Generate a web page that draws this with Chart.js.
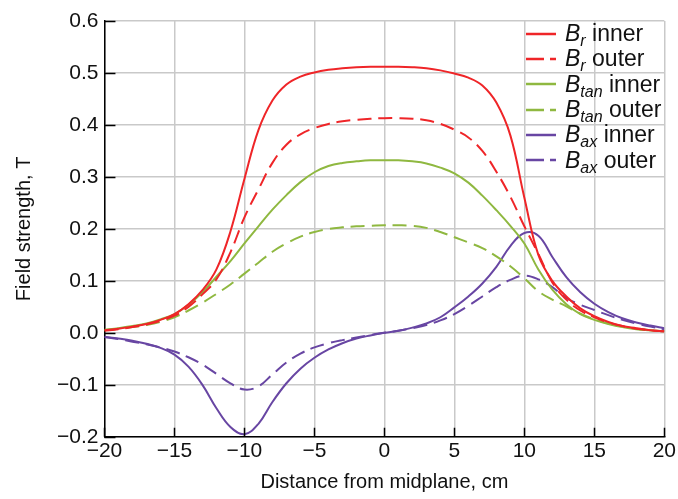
<!DOCTYPE html>
<html>
<head>
<meta charset="utf-8">
<script src="https://cdn.jsdelivr.net/npm/chart.js@4.4.1/dist/chart.umd.min.js"></script>
<style>
  body { margin: 0; background: #fff; }
  #wrap { position: relative; width: 678px; height: 499px; }
  #legend { position: absolute; left: 526px; top: 21px; font-family: "Liberation Sans", Arial, sans-serif; font-size: 23px; color: #111; }
  #legend .row { height: 25.3px; display: flex; align-items: center; white-space: nowrap; }
  #legend svg { margin-right: 9px; }
  #legend sub { font-size: 16px; font-style: italic; vertical-align: -5px; line-height: 0; }
</style>
</head>
<body>
<div id="wrap">
  <canvas id="chart" width="678" height="499"></canvas>
  <div id="legend"></div>
</div>
<script>
// distance from midplane, cm
const distance = [-20,-19,-18,-17,-16,-15,-14,-13,-12,-11,-10,-9,-8,-7,-6,-5,-4,-3,-2,-1,0,1,2,3,4,5,6,7,8,9,10,11,12,13,14,15,16,17,18,19,20];

// field strength, T
const brInner = [0.005,0.008,0.012,0.017,0.025,0.036,0.055,0.082,0.122,0.195,0.296,0.39,0.447,0.478,0.493,0.501,0.506,0.509,0.511,0.512,0.512,0.512,0.511,0.509,0.505,0.499,0.491,0.476,0.443,0.38,0.26,0.15,0.1,0.07,0.047,0.032,0.021,0.013,0.009,0.005,0.003];
const brOuter = [0.004,0.007,0.011,0.016,0.023,0.033,0.05,0.074,0.103,0.155,0.222,0.276,0.327,0.362,0.382,0.394,0.402,0.407,0.41,0.412,0.413,0.413,0.412,0.409,0.402,0.391,0.376,0.35,0.31,0.262,0.205,0.152,0.097,0.064,0.043,0.03,0.02,0.013,0.008,0.005,0.003];
const btanInner = [0.006,0.009,0.013,0.018,0.026,0.036,0.054,0.078,0.108,0.138,0.172,0.205,0.237,0.265,0.29,0.309,0.321,0.327,0.33,0.332,0.332,0.332,0.33,0.326,0.318,0.307,0.289,0.264,0.236,0.206,0.172,0.122,0.083,0.055,0.036,0.025,0.017,0.011,0.007,0.005,0.003];
const btanOuter = [0.005,0.008,0.011,0.015,0.021,0.03,0.043,0.058,0.075,0.093,0.114,0.135,0.156,0.172,0.185,0.194,0.2,0.203,0.205,0.206,0.207,0.207,0.206,0.202,0.194,0.184,0.174,0.163,0.147,0.128,0.105,0.08,0.064,0.051,0.037,0.026,0.018,0.012,0.008,0.005,0.003];
const baxInner = [-0.008,-0.011,-0.015,-0.021,-0.029,-0.042,-0.065,-0.1,-0.145,-0.181,-0.195,-0.175,-0.133,-0.097,-0.069,-0.048,-0.032,-0.02,-0.011,-0.005,0,0.004,0.01,0.018,0.03,0.049,0.07,0.095,0.127,0.167,0.192,0.187,0.146,0.107,0.078,0.056,0.04,0.028,0.02,0.014,0.009];
const baxOuter = [-0.008,-0.012,-0.017,-0.022,-0.028,-0.036,-0.047,-0.061,-0.079,-0.097,-0.109,-0.103,-0.08,-0.057,-0.04,-0.028,-0.02,-0.014,-0.009,-0.004,0,0.004,0.009,0.015,0.024,0.036,0.052,0.07,0.088,0.102,0.11,0.103,0.088,0.067,0.054,0.044,0.034,0.025,0.018,0.012,0.007];

// legend text parts
const components = ['r','r','tan','tan','ax','ax'];
const positions = ['inner','outer','inner','outer','inner','outer'];

const red = '#ef2528';
const green = '#8fb840';
const purple = '#6846a3';
const dash = [14,7];

function pts(vals){
  let out=[];
  for(let i=0;i<distance.length;i++){
    out.push({x:distance[i], y:vals[i]});
  }
  return out;
}

function minus(s){
  return String(s).replace('-', '\u2212');
}

const series = [brInner, brOuter, btanInner, btanOuter, baxInner, baxOuter];
const colors = [red, red, green, green, purple, purple];

let datasets=[];
for(let i=0;i<series.length;i++){
  datasets.push({
    label: 'B' + components[i] + ' ' + positions[i],
    data: pts(series[i]),
    borderColor: colors[i],
    borderWidth: 2,
    borderDash: positions[i]=='outer' ? dash : [],
    pointRadius: 0,
    tension: 0.4,
    fill: false
  });
}

// short tick marks pointing into the plot
const innerTicks = {
  id: 'innerTicks',
  afterDraw(chart){
    const ctx = chart.ctx;
    const area = chart.chartArea;
    const xs = chart.scales.x;
    const ys = chart.scales.y;
    ctx.save();
    ctx.strokeStyle = '#000';
    ctx.lineWidth = 1.5;
    ctx.beginPath();
    xs.ticks.forEach(t=>{
      const px = Math.round(xs.getPixelForValue(t.value)) + 0.5;
      ctx.moveTo(px, area.bottom);
      ctx.lineTo(px, area.bottom - 9);
    });
    ys.ticks.forEach(t=>{
      const py = Math.round(ys.getPixelForValue(t.value)) + 0.5;
      ctx.moveTo(area.left, py);
      ctx.lineTo(area.left + 11, py);
    });
    ctx.stroke();
    ctx.restore();
  }
};

const font = {family: '"Liberation Sans", Arial, sans-serif', size: 21};

const chart = new Chart(document.getElementById('chart').getContext('2d'), {
  type: 'line',
  data: { datasets: datasets },
  options: {
    responsive: false,
    animation: false,
    devicePixelRatio: 1,
    layout: { padding: { top: 21, right: 2, left: 12, bottom: 5 } },
    plugins: {
      legend: { display: false },
      tooltip: { enabled: false }
    },
    scales: {
      x: {
        type: 'linear',
        min: -20,
        max: 20,
        ticks: {
          stepSize: 5,
          color: '#111',
          font: font,
          padding: 2,
          maxRotation: 0,
          callback: v => minus(v)
        },
        grid: { color: '#c9c9c9', lineWidth: 1.5, drawTicks: false },
        border: { color: '#000', width: 1.5 },
        title: { display: true, text: 'Distance from midplane, cm', color: '#111', font: {family: font.family, size: 20}, padding: {top: 4, bottom: 0} }
      },
      y: {
        min: -0.2,
        max: 0.6,
        ticks: {
          stepSize: 0.1,
          color: '#111',
          font: font,
          padding: 6,
          callback: v => minus(v.toFixed(1))
        },
        grid: { color: '#c9c9c9', lineWidth: 1.5, drawTicks: false },
        border: { color: '#000', width: 1.5 },
        title: { display: true, text: 'Field strength, T', color: '#111', font: {family: font.family, size: 20}, padding: {top: 0, bottom: 15} }
      }
    }
  },
  plugins: [innerTicks]
});

// html legend, so the subscripts stay real text
const legend = document.getElementById('legend');
chart.data.datasets.forEach((ds, i)=>{
  const row = document.createElement('div');
  row.className = 'row';
  const dashAttr = ds.borderDash.length ? ' stroke-dasharray="18 6"' : '';
  row.innerHTML = '<svg width="30" height="4"><line x1="0" y1="2" x2="30" y2="2" stroke="' + ds.borderColor + '" stroke-width="2.5"' + dashAttr + '/></svg>' +
    '<span><i>B</i><sub>' + components[i] + '</sub> ' + positions[i] + '</span>';
  legend.appendChild(row);
});
</script>
</body>
</html>
